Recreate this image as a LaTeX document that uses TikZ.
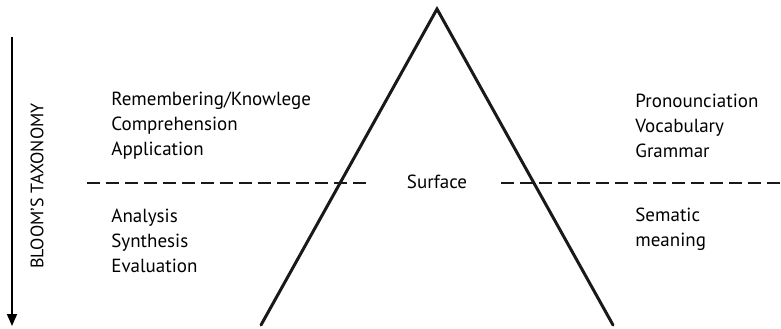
\documentclass[tikz,border=0pt]{standalone}
\usepackage{fontspec}
\setmainfont{PT Sans}
\usetikzlibrary{arrows.meta}

\begin{document}
\begin{tikzpicture}[
        x=0.5pt, y=-0.5pt,
        leg/.style={line width=1.5pt, draw=black!90, line cap=round},
        divider/.style={line width=1.3pt, draw=black!90, dash pattern=on 6.5pt off 3pt},
        axis/.style={-{Triangle[length=6pt, width=5pt]}, line width=0.9pt},
        levels/.style={align=left, anchor=west, inner sep=0pt, font=\fontsize{9.5}{12.5}\selectfont}
    ]
        \useasboundingbox (0,0) rectangle (781,328);

        % Triangle legs
        \coordinate (apex) at (437, 9);
        \coordinate (baseL) at (261, 325);
        \coordinate (baseR) at (613, 325);
        \draw[leg, line join=miter] (baseL) -- (apex) -- (baseR);

        % Surface level
        \node[font=\fontsize{9.5}{12.5}\selectfont, inner sep=0pt] (surface) at (437, 182) {Surface};
        \coordinate (divL1) at (87, 183);
        \coordinate (divL2) at (371, 183);
        \coordinate (divR1) at (501, 183);
        \coordinate (divR2) at (781, 183);
        \draw[divider] (divL1) -- (divL2);
        \draw[divider] (divR1) -- (divR2);

        % Bloom's axis
        \coordinate (axtop) at (12, 37);
        \coordinate (axbot) at (12, 326);
        \draw[axis] (axtop) -- (axbot);
        \node[rotate=90, inner sep=0pt, font=\fontsize{9}{11}\selectfont] (bloom) at (37, 186) {BLOOM'S TAXONOMY};

        % Left levels
        \node[levels] (lower) at (111, 125.5) {Remembering/Knowlege\\Comprehension\\Application};
        \node[levels] (higher) at (111, 241) {Analysis\\Synthesis\\Evaluation};

        % Right levels
        \node[levels] (form) at (635, 125.5) {Pronounciation\\Vocabulary\\Grammar};
        \node[levels] (meaning) at (635, 229.5) {Sematic\\meaning};
    \end{tikzpicture}
\end{document}
